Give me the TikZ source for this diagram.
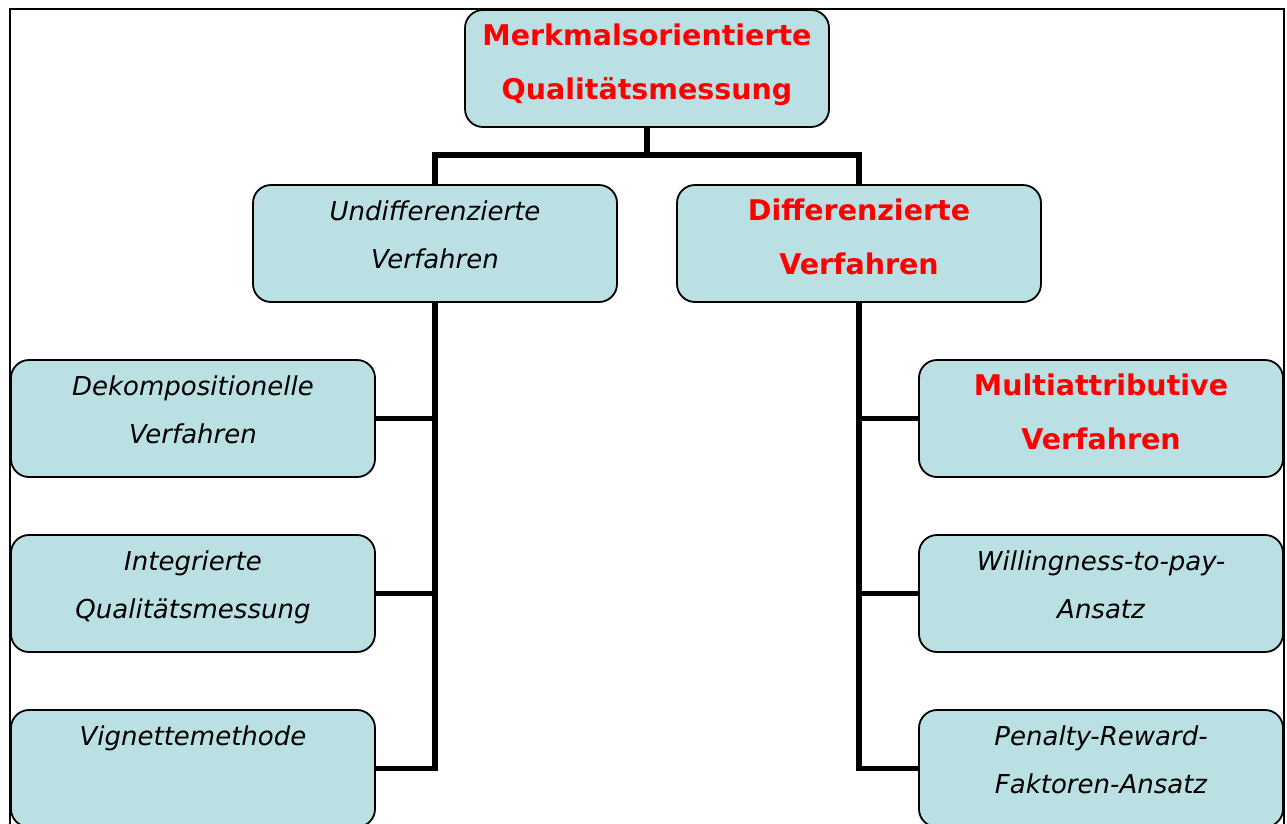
\documentclass[tikz,border=0pt]{standalone}
\usepackage{fontspec}
\setmainfont{DejaVu Sans}
\usetikzlibrary{positioning}
\definecolor{boxfill}{RGB}{186,224,227}
\newcommand{\boxlines}[1]{\parbox[c][117pt][t]{356pt}{\centering\rule{0pt}{35.5pt}#1}}

\begin{document}
\begin{tikzpicture}[x=1pt, y=-1pt, on grid,
    block/.style={rectangle, draw, line width=1.8pt, fill=boxfill, rounded corners=18pt,
    minimum width=364pt, minimum height=117pt, inner sep=0pt,
    font=\fontsize{26}{48}\selectfont\itshape},
    keyblock/.style={block, text=red, font=\fontsize{28.5}{54}\selectfont\bfseries},
    line/.style={draw, line width=5.5pt}]

\clip (0,0) rectangle (1287,823);
\draw [line width=2pt] (9.5,840) -- (9.5,9) -- (1283.5,9) -- (1283.5,840);

\node [keyblock] (quality) at (647,68.5) {\boxlines{Merkmalsorientierte\\Qualitätsmessung}};
\node [block, below left=175pt and 212pt of quality] (undiff) {\boxlines{Undifferenzierte\\Verfahren}};
\node [keyblock, below right=175pt and 212pt of quality] (diff) {\boxlines{Differenzierte\\Verfahren}};
\node [block, below left=175pt and 242pt of undiff] (decomp) {\boxlines{Dekompositionelle\\Verfahren}};
\node [block, below=175pt of decomp] (integ) {\boxlines{Integrierte\\Qualitätsmessung}};
\node [block, below=175pt of integ] (vignette) {\boxlines{Vignettemethode}};
\node [keyblock, below right=175pt and 242pt of diff] (multi) {\boxlines{Multiattributive\\Verfahren}};
\node [block, below=175pt of multi] (wtp) {\boxlines{Willingness-to-pay-\\Ansatz}};
\node [block, below=175pt of wtp] (penalty) {\boxlines{Penalty-Reward-\\Faktoren-Ansatz}};
\coordinate [below=86.5pt of quality] (split);

\path [line] (quality) -- (split);
\path [line] (undiff) |- (split) -| (diff);
\path [line] (undiff) |- (decomp);
\path [line] (undiff) |- (integ);
\path [line] (undiff) |- (vignette);
\path [line] (diff) |- (multi);
\path [line] (diff) |- (wtp);
\path [line] (diff) |- (penalty);
\end{tikzpicture}
\end{document}
